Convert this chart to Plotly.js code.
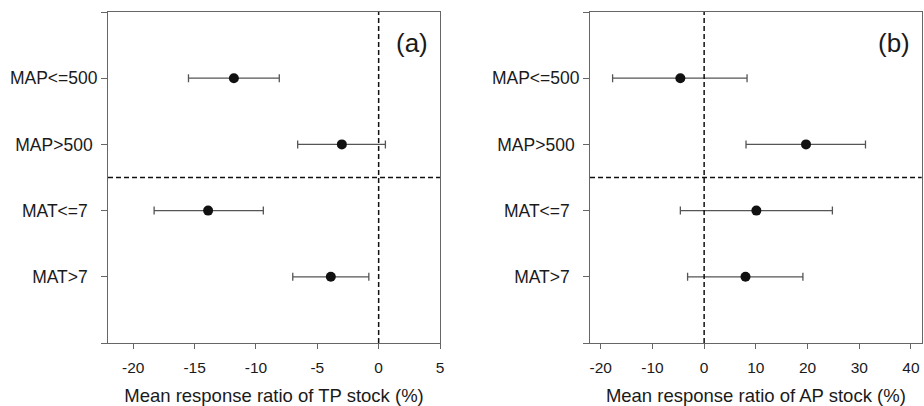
<!DOCTYPE html>
<html>
<head>
<meta charset="utf-8">
<script src="https://cdn.plot.ly/plotly-3.0.1.min.js"></script>
<style>html,body{margin:0;padding:0;background:#fff;}#chart{width:924px;height:406px;}</style>
</head>
<body>
<div id="chart"></div>
<script>
const categories = ['MAP<=500', 'MAP>500', 'MAT<=7', 'MAT>7'];
const tickLabels = ['MAP<=500', 'MAP>500\u00a0', 'MAT<=7\u00a0\u00a0', 'MAT>7\u00a0\u00a0'];
const tpMean  = [-11.8, -3.0, -13.9, -3.9];
const tpLower = [-15.5, -6.6, -18.3, -7.0];
const tpUpper = [-8.1, 0.55, -9.4, -0.8];
const apMean  = [-4.6, 19.7, 10.1, 8.0];
const apLower = [-17.7, 8.1, -4.6, -3.2];
const apUpper = [8.3, 31.2, 24.8, 19.1];
const tpTicks = [-20, -15, -10, -5, 0, 5];
const apTicks = [-20, -10, 0, 10, 20, 30, 40];
const panelLabels = ['(a)', '(b)'];
const xTitles = ['Mean response ratio of TP stock (%)', 'Mean response ratio of AP stock (%)'];

const yPos = categories.map((c, i) => i + 1);
const FONT = 'Liberation Sans, Arial, sans-serif';
const TXT = '#1a1a1a';
const AX = '#666';

function trace(mean, lo, hi, xa, ya) {
  return {
    type: 'scatter', mode: 'markers', x: mean, y: yPos, xaxis: xa, yaxis: ya,
    marker: {color: '#111', size: 10},
    error_x: {type: 'data', symmetric: false,
      array: hi.map((v, i) => v - mean[i]),
      arrayminus: lo.map((v, i) => mean[i] - v),
      color: '#555', thickness: 1.3, width: 4},
    showlegend: false, hoverinfo: 'skip', cliponaxis: false
  };
}

function xaxis(domain, range, ticks, title, anchor) {
  return {
    domain: domain, range: range, anchor: anchor, tickvals: ticks,
    ticktext: ticks.map(String),
    ticks: 'outside', ticklen: 5, tickcolor: AX, tickwidth: 1,
    ticklabelstandoff: 5,
    showline: true, linecolor: AX, linewidth: 1, mirror: true,
    showgrid: false, zeroline: false,
    tickfont: {family: FONT, size: 15.5, color: TXT},
    title: {text: title, font: {family: FONT, size: 18.5, color: TXT}, standoff: 14}
  };
}
function yaxis(anchor) {
  return {
    domain: [0, 1], range: [5, 0], anchor: anchor,
    tickvals: [0].concat(yPos, [5]), ticktext: [''].concat(tickLabels, ['']),
    ticks: 'outside', ticklen: 6, tickcolor: AX, tickwidth: 1,
    showline: true, linecolor: AX, linewidth: 1, mirror: true,
    showgrid: false, zeroline: false,
    tickfont: {family: FONT, size: 17.5, color: TXT}
  };
}

const dash = {color: '#111', width: 1.5, dash: '5px,3px'};
const layout = {
  width: 924, height: 406,
  margin: {l: 0, r: 0, t: 12, b: 63},
  paper_bgcolor: '#fff', plot_bgcolor: '#fff',
  xaxis: xaxis([108/924, 440/924], [-22.06, 5], tpTicks, xTitles[0], 'y'),
  yaxis: yaxis('x'),
  xaxis2: xaxis([590/924, 921.7/924], [-22.07, 42.07], apTicks, xTitles[1], 'y2'),
  yaxis2: yaxis('x2'),
  shapes: [
    {type: 'line', xref: 'x', yref: 'y domain', x0: 0, x1: 0, y0: 0, y1: 1, line: dash},
    {type: 'line', xref: 'x domain', yref: 'y', x0: 0, x1: 1, y0: 2.5, y1: 2.5, line: dash},
    {type: 'line', xref: 'x2', yref: 'y2 domain', x0: 0, x1: 0, y0: 0, y1: 1, line: dash},
    {type: 'line', xref: 'x2 domain', yref: 'y2', x0: 0, x1: 1, y0: 2.5, y1: 2.5, line: dash}
  ],
  annotations: [
    {xref: 'x domain', yref: 'y domain', x: 0.97, y: 0.905, xanchor: 'right', yanchor: 'middle',
     text: panelLabels[0], showarrow: false, font: {family: FONT, size: 26, color: TXT}},
    {xref: 'x2 domain', yref: 'y2 domain', x: 0.97, y: 0.905, xanchor: 'right', yanchor: 'middle',
     text: panelLabels[1], showarrow: false, font: {family: FONT, size: 26, color: TXT}}
  ]
};

Plotly.newPlot('chart', [
  trace(tpMean, tpLower, tpUpper, 'x', 'y'),
  trace(apMean, apLower, apUpper, 'x2', 'y2')
], layout, {displayModeBar: false, staticPlot: true});
</script>
</body>
</html>
